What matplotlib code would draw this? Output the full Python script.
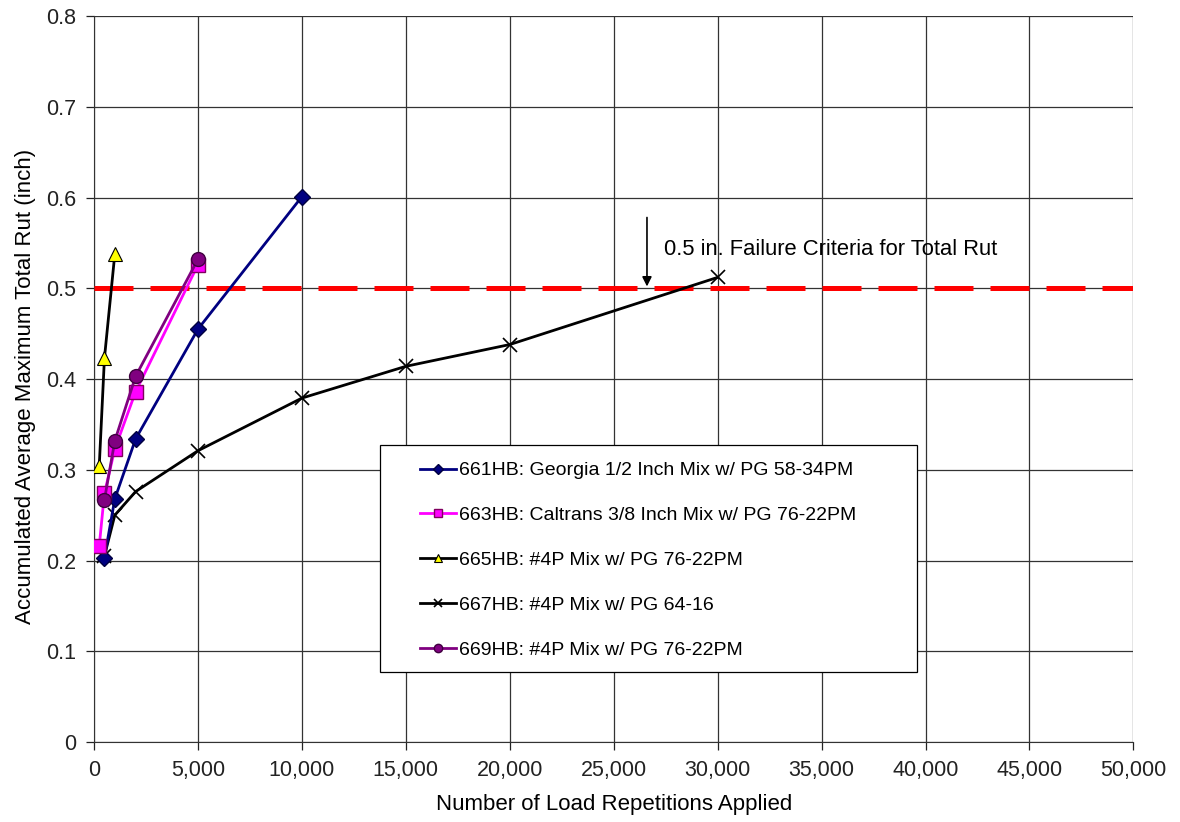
import matplotlib
matplotlib.use("Agg")
import matplotlib.pyplot as plt
from matplotlib.patches import Rectangle
from matplotlib.ticker import FuncFormatter, MultipleLocator

plt.rcParams['font.family'] = ['Liberation Sans', 'DejaVu Sans']

# Load repetitions and accumulated average maximum total rut (inch)
reps_661 = [500, 1000, 2000, 5000, 10000]
rut_661 = [0.203, 0.268, 0.334, 0.455, 0.601]

reps_663 = [250, 500, 1000, 2000, 5000]
rut_663 = [0.216, 0.274, 0.323, 0.386, 0.526]

reps_665 = [250, 500, 1000]
rut_665 = [0.304, 0.423, 0.538]

reps_667 = [500, 1000, 2000, 5000, 10000, 15000, 20000, 30000]
rut_667 = [0.205, 0.250, 0.276, 0.321, 0.379, 0.414, 0.438, 0.512]

reps_669 = [500, 1000, 2000, 5000]
rut_669 = [0.267, 0.332, 0.403, 0.532]

labels = [
    "661HB: Georgia 1/2 Inch Mix w/ PG 58-34PM",
    "663HB: Caltrans 3/8 Inch Mix w/ PG 76-22PM",
    "665HB: #4P Mix w/ PG 76-22PM",
    "667HB: #4P Mix w/ PG 64-16",
    "669HB: #4P Mix w/ PG 76-22PM",
]

failure_rut = 0.5
failure_text = "0.5 in. Failure Criteria for Total Rut"

fig = plt.figure(figsize=(11.8, 8.22), dpi=100)
ax = fig.add_axes([0.0797, 0.0973, 0.8808, 0.8832])

lw = 2.0
ax.plot(reps_661, rut_661, color='#000080', lw=lw, marker='D', ms=8,
        mfc='#000080', mec='#000040', label=labels[0], zorder=5)
ax.plot(reps_663, rut_663, color='#FF00FF', lw=lw, marker='s', ms=9.5,
        mfc='#FF00FF', mec='#800060', label=labels[1], zorder=5)
ax.plot(reps_665, rut_665, color='black', lw=lw, marker='^', ms=10.5,
        mfc='#FFFF00', mec='black', mew=0.8, label=labels[2], zorder=5)
ax.plot(reps_667, rut_667, color='black', lw=lw, marker='x', ms=10,
        mec='black', mew=1.2, label=labels[3], zorder=4)
ax.plot(reps_669, rut_669, color='#800080', lw=lw, marker='o', ms=10,
        mfc='#800080', mec='#400040', label=labels[4], zorder=6)

# Failure criterion line
ax.axhline(failure_rut, color='#FF0000', lw=3.6, dashes=(7.8, 3.4), zorder=3)
ax.annotate("", xy=(26600, 0.502), xytext=(26600, 0.578),
            arrowprops=dict(arrowstyle='-|>', color='black', lw=1.2,
                            mutation_scale=14, shrinkA=0, shrinkB=0))
ax.text(27400, 0.543, failure_text, fontsize=15.8, va='center', ha='left')

ax.set_xlim(0, 50000)
ax.set_ylim(0, 0.8)
ax.xaxis.set_major_locator(MultipleLocator(5000))
ax.yaxis.set_major_locator(MultipleLocator(0.1))
ax.xaxis.set_major_formatter(FuncFormatter(lambda v, p: f"{int(round(v)):,}"))
ax.yaxis.set_major_formatter(FuncFormatter(lambda v, p: "0" if abs(v) < 1e-9 else f"{v:.1f}"))
ax.grid(True, color='#333333', lw=0.9)
ax.set_axisbelow(True)
ax.tick_params(direction='out', length=6, width=0.9, labelsize=15.5,
               colors='#222222', pad=7)
for side in ['top', 'right']:
    ax.spines[side].set_visible(False)
for side in ['left', 'bottom']:
    ax.spines[side].set_color('#333333')

ax.set_xlabel("Number of Load Repetitions Applied", fontsize=16, labelpad=9)
ax.set_ylabel("Accumulated Average Maximum Total Rut (inch)", fontsize=16, labelpad=7)
ax.yaxis.label.set_y(0.49)

# Legend box with its own frame
frame = Rectangle((0.275, 0.096), 0.517, 0.313, transform=ax.transAxes,
                  facecolor='white', edgecolor='black', lw=0.9, zorder=9)
ax.add_patch(frame)
leg = ax.legend(loc='upper left', bbox_to_anchor=(0.314, 0.386),
                fontsize=14, frameon=False, markerscale=0.6,
                handlelength=1.85, handletextpad=0.15, labelspacing=1.4,
                borderpad=0, borderaxespad=0)
leg.set_zorder(10)

fig.savefig("out.png", dpi=100)
